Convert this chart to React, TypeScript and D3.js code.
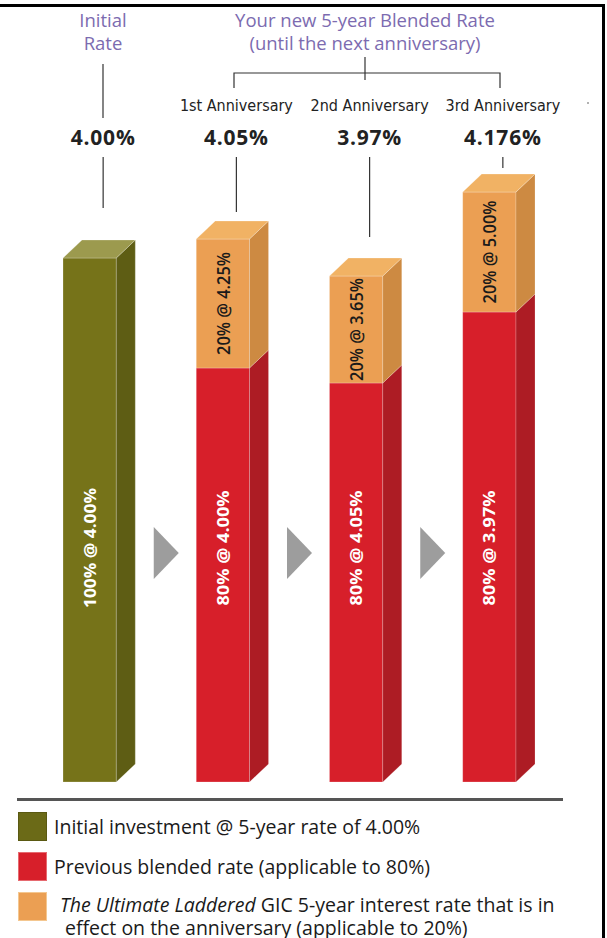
import React from 'react';
import * as d3 from 'd3';

// ---------- data ----------
const categories = ['Initial', '1st Anniversary', '2nd Anniversary', '3rd Anniversary'];
const headerLabels = ['', '1st Anniversary', '2nd Anniversary', '3rd Anniversary'];
const rateLabels = ['4.00%', '4.05%', '3.97%', '4.176%'];
// drawn segment heights (illustrative units)
const baseHeights = [5.24, 4.14, 3.99, 4.70];
const topHeights = [0, 1.29, 1.07, 1.2];
const baseKinds = ['initial', 'previous', 'previous', 'previous'];
const baseLabels = ['100% @ 4.00%', '80% @ 4.00%', '80% @ 4.05%', '80% @ 3.97%'];
const topLabels = ['', '20% @ 4.25%', '20% @ 3.65%', '20% @ 5.00%'];
const legendKinds = ['initial', 'previous', 'ultimate'];

// ---------- style ----------
const COLORS: Record<string, { front: string; top: string; side: string; swatch: string }> = {
  initial: { front: '#767319', top: '#9c9a4e', side: '#5e5d14', swatch: '#6b6a17' },
  previous: { front: '#d71f2a', top: '#e0464c', side: '#ad1c24', swatch: '#d71f2a' },
  ultimate: { front: '#eb9f53', top: '#f1b264', side: '#cd8a42', swatch: '#eb9f53' },
};
const PURPLE = '#7c6bb0';
const FONT = "'Open Sans', 'Noto Sans', sans-serif";
const NARROW = "'Liberation Sans Narrow', 'DejaVu Sans Condensed', sans-serif";
const DX = 19;
const DY = 18;
const LEADER_BOTTOM = [208, 212, 237, 168];

const W = 607;
const H = 938;

export default function App() {
  const x = d3.scaleBand<string>().domain(categories).range([63, 516]).paddingInner(0.6).paddingOuter(0);
  const y = d3.scaleLinear().domain([0, 6]).range([782, 182]);
  const bw = x.bandwidth();

  const box = (x0: number, yBottom: number, yTop: number, kind: string, showTop: boolean, key: string) => {
    const c = COLORS[kind];
    const x1 = x0 + bw;
    const side = `M${x1},${yBottom} L${x1 + DX},${yBottom - DY} L${x1 + DX},${yTop - DY} L${x1},${yTop} Z`;
    const top = `M${x0},${yTop} L${x0 + DX},${yTop - DY} L${x1 + DX},${yTop - DY} L${x1},${yTop} Z`;
    return (
      <g key={key}>
        <rect x={x0} y={yTop} width={bw} height={yBottom - yTop} fill={c.front} stroke="rgba(255,255,255,0.3)" strokeWidth={0.8} />
        <path d={side} fill={c.side} stroke="rgba(255,255,255,0.25)" strokeWidth={0.8} />
        {showTop && <path d={top} fill={c.top} stroke="rgba(255,255,255,0.3)" strokeWidth={0.8} />}
      </g>
    );
  };

  return (
    <svg width={W} height={H} style={{ position: 'absolute', left: 0, top: 0, background: '#fff' }}>
      <rect x={0} y={0} width={W} height={H} fill="#fff" />
      {/* frame */}
      <rect x={0} y={4} width={605} height={3} fill="#000" />
      <rect x={602} y={4} width={3} height={H - 4} fill="#000" />

      {/* header */}
      <g fontFamily={FONT} fill={PURPLE} fontSize={18.5} textAnchor="middle">
        <text x={103} y={27}>Initial</text>
        <text x={103} y={50}>Rate</text>
        <text x={365} y={27}>Your new 5-year Blended Rate</text>
        <text x={365} y={50}>(until the next anniversary)</text>
      </g>
      <g stroke="#333" strokeWidth={1.2} fill="none">
        <line x1={103} x2={103} y1={64} y2={118} />
        <line x1={365} x2={365} y1={57} y2={80} />
        <path d="M234,88 L234,73 L500,73 L500,88" />
      </g>
      <circle cx={588} cy={103} r={1} fill="#999" />

      {categories.map((cat, i) => {
        const lx = (x(cat) as number) + bw / 2 + DX / 2 + 4;
        return (
          <g key={'h' + i}>
            {headerLabels[i] && (
              <text x={lx} y={111} textAnchor="middle" fontFamily={NARROW} fontSize={16} fill="#222">
                {headerLabels[i]}
              </text>
            )}
            <text x={lx} y={145} textAnchor="middle" fontFamily={FONT} fontWeight={700} fontSize={21} fill="#222" letterSpacing={0.8}>
              {rateLabels[i]}
            </text>
            <line x1={lx} x2={lx} y1={157} y2={LEADER_BOTTOM[i]} stroke="#333" strokeWidth={1.2} />
          </g>
        );
      })}

      {/* bars */}
      {categories.map((cat, i) => {
        const x0 = x(cat) as number;
        const yb = y(0);
        const ym = y(baseHeights[i]);
        const yt = y(baseHeights[i] + topHeights[i]);
        const hasTop = topHeights[i] > 0;
        return (
          <g key={'b' + i}>
            {box(x0, yb, ym, baseKinds[i], !hasTop, 'base')}
            {hasTop && box(x0, ym, yt, 'ultimate', true, 'top')}
            <text
              transform={`translate(${x0 + bw / 2},${548}) rotate(-90)`}
              textAnchor="middle"
              dominantBaseline="central"
              fontFamily={FONT}
              fontWeight={700}
              fontSize={16}
              fill="#fff"
              textLength={i === 0 ? 120 : 115}
              lengthAdjust="spacingAndGlyphs"
            >
              {baseLabels[i]}
            </text>
            {hasTop && (
              <text
                transform={`translate(${x0 + bw / 2},${(ym + yt) / 2}) rotate(-90)`}
                textAnchor="middle"
                dominantBaseline="central"
                fontFamily={FONT}
                fontWeight={600}
                fontSize={18}
                fill="#1a1a1a"
                textLength={103}
                lengthAdjust="spacingAndGlyphs"
              >
                {topLabels[i]}
              </text>
            )}
          </g>
        );
      })}

      {/* arrows between bars */}
      {categories.slice(1).map((cat, i) => {
        const prevRight = (x(categories[i]) as number) + bw + DX;
        const nextLeft = x(cat) as number;
        const cx = (prevRight + nextLeft) / 2;
        const cy = 553;
        return (
          <path key={'a' + i} d={`M${cx - 12},${cy - 26} L${cx + 13},${cy} L${cx - 12},${cy + 26} Z`} fill="#9d9d9d" />
        );
      })}

      {/* legend */}
      <rect x={17} y={798} width={546} height={3} fill="#555" />
      {legendKinds.map((k, i) => (
        <rect key={'s' + i} x={18.5} y={812.5 + i * 40} width={28} height={28} fill={COLORS[k].swatch}
          stroke={k === 'ultimate' ? '#f4c790' : k === 'previous' ? '#e66a70' : '#5a5912'} strokeWidth={1} />
      ))}
      <g fontFamily={FONT} fontSize={19.5} fill="#1a1a1a">
        <text x={54} y={834}>Initial investment @ 5-year rate of 4.00%</text>
        <text x={54} y={874}>Previous blended rate (applicable to 80%)</text>
        <text x={60} y={912}>
          <tspan fontStyle="italic">The Ultimate Laddered</tspan>
          <tspan> GIC 5-year interest rate that is in</tspan>
        </text>
        <text x={65} y={935}>effect on the anniversary (applicable to 20%)</text>
      </g>
    </svg>
  );
}
